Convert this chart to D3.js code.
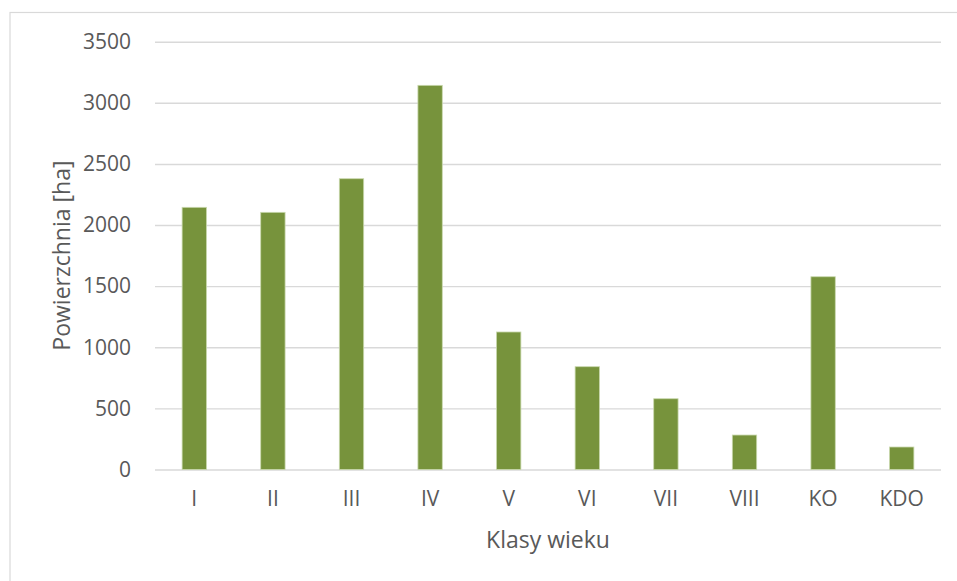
<!DOCTYPE html>
<html>
<head>
<meta charset="utf-8">
<script src="https://cdn.jsdelivr.net/npm/d3@7"></script>
<style>
  html, body { margin: 0; padding: 0; background: #fff; }
  svg { display: block; }
  text { font-family: "Open Sans", "Noto Sans", sans-serif; fill: #595959; }
</style>
</head>
<body>
<script>
const categories = ["I", "II", "III", "IV", "V", "VI", "VII", "VIII", "KO", "KDO"];
const values = [2145, 2104, 2379, 3143, 1125, 841, 579, 282, 1577, 184];
const yTicks = [0, 500, 1000, 1500, 2000, 2500, 3000, 3500];
const xTitle = "Klasy wieku";
const yTitle = "Powierzchnia [ha]";

const W = 957, H = 581;
const plot = { left: 155, right: 941, top: 41.7, bottom: 469.5 };

const svg = d3.select("body").append("svg").attr("width", W).attr("height", H);

// chart area border
svg.append("rect")
  .attr("x", 10).attr("y", 12.5)
  .attr("width", W + 10).attr("height", H + 10)
  .attr("fill", "#fff").attr("stroke", "#d9d9d9").attr("stroke-width", 1.2);

const x = d3.scaleBand().domain(categories).range([plot.left, plot.right]).paddingInner(0.69).paddingOuter(0.345);
const y = d3.scaleLinear().domain([0, 3500]).range([plot.bottom, plot.top]);

// gridlines + y labels
const yAxis = d3.axisLeft(y).tickValues(yTicks).tickSize(-(plot.right - plot.left)).tickPadding(24).tickFormat(d3.format("d"));
const gy = svg.append("g").attr("transform", `translate(${plot.left},0)`).call(yAxis);
gy.select(".domain").remove();
gy.selectAll(".tick line").attr("stroke", "#d9d9d9").attr("stroke-width", 1.4);
gy.selectAll(".tick text").attr("font-size", 21).attr("fill", "#595959")
  .style("font-family", "'Open Sans', sans-serif");

// bars
svg.append("g").selectAll("rect").data(values).join("rect")
  .attr("x", (d, i) => x(categories[i]))
  .attr("y", d => y(d))
  .attr("width", x.bandwidth())
  .attr("height", d => y(0) - y(d))
  .attr("fill", "#77933C")
  .attr("stroke", "#c9d8ad").attr("stroke-width", 0.8);

// x labels
const xAxis = d3.axisBottom(x).tickSize(0).tickPadding(22);
const gx = svg.append("g").attr("transform", `translate(0,${plot.bottom})`).call(xAxis);
gx.select(".domain").remove();
gx.selectAll(".tick text").attr("font-size", 21).attr("fill", "#595959")
  .style("font-family", "'Open Sans', sans-serif");

// axis titles
svg.append("text").attr("x", (plot.left + plot.right) / 2).attr("y", 548)
  .attr("text-anchor", "middle").attr("font-size", 23).text(xTitle);

svg.append("text")
  .attr("transform", `translate(70,${(plot.top + plot.bottom) / 2}) rotate(-90)`)
  .attr("text-anchor", "middle").attr("font-size", 23).text(yTitle);
</script>
</body>
</html>
